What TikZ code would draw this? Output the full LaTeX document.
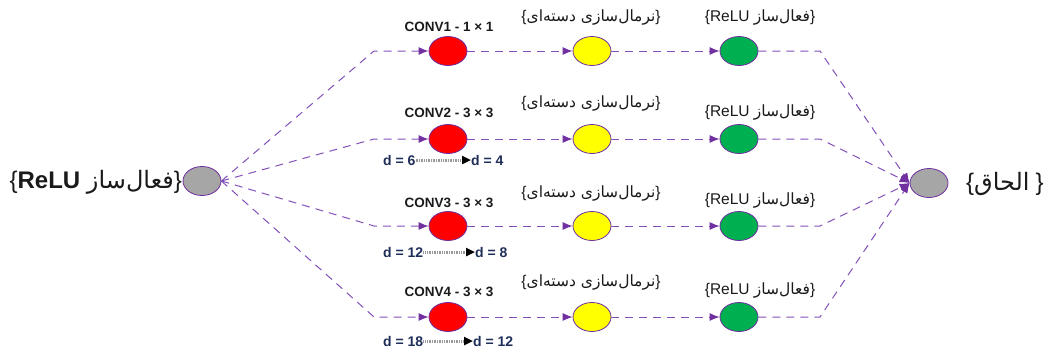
\documentclass[tikz,border=0pt]{standalone}
\usepackage{fontspec}
\setmainfont{Liberation Sans}
\newfontfamily\ar[Script=Arabic]{DejaVu Sans}
\TeXXeTstate=1
\usetikzlibrary{arrows.meta,shapes.geometric}
\definecolor{pur}{HTML}{8250B8}
\definecolor{purd}{HTML}{7030A0}
\definecolor{gfill}{HTML}{A6A6A6}
\definecolor{rfill}{HTML}{FF0000}
\definecolor{yfill}{HTML}{FFFF00}
\definecolor{grfill}{HTML}{00B050}
\definecolor{txt}{HTML}{1A1A1A}
\definecolor{dtxt}{HTML}{1F2F5A}
\newcommand{\faw}[1]{\mbox{\ar\beginR #1\endR}}
\tikzset{
  ell/.style={ellipse, draw=purd, line width=0.8pt, minimum width=38pt, minimum height=29pt, inner sep=0pt},
  conn/.style={draw=pur, dash pattern=on 8pt off 6pt, line width=1pt, -{Latex[length=10pt,width=8pt,color=purd]}},
  convlbl/.style={font=\fontsize{13.5}{15}\selectfont\bfseries, text=txt, inner sep=0pt},
  perlbl/.style={font=\fontsize{15.5}{17}\selectfont, text=txt, inner sep=0pt},
  dlbl/.style={font=\fontsize{14}{16}\selectfont\bfseries, text=dtxt, inner sep=0pt},
  darr/.style={draw=gray!80, dash pattern=on 1pt off 0.7pt, line width=3pt, -{Triangle[length=9pt,width=8pt,color=black]}},
  biglbl/.style={font=\fontsize{24}{27}\selectfont, text=txt, inner sep=0pt}
}
\begin{document}
\begin{tikzpicture}[x=1pt,y=-1pt]
\useasboundingbox (0,0) rectangle (1049,351);

% input / output
\node[ell, fill=gfill] (in) at (202,181) {};
\node[ell, fill=gfill] (out) at (929,183) {};
\node[biglbl, anchor=east] (inlbl) at (182,182) {\{\textbf{ReLU}\ \faw{فعال‌ساز}\}};
\node[biglbl, anchor=west] (outlbl) at (966,184) {\{\faw{الحاق}\hspace{6pt}\}};

% rows
\foreach \i/\y/\cy/\py/\ry/\k in {1/51/27/18/18/1 - 1 × 1, 2/139/113/104/113/2 - 3 × 3, 3/226/203/193/200/3 - 3 × 3, 4/317/292/282/290/4 - 3 × 3}{
  \node[ell, fill=rfill] (r\i) at (448,\y) {};
  \node[ell, fill=yfill] (y\i) at (592,\y) {};
  \node[ell, fill=grfill] (g\i) at (739,\y) {};
  \coordinate (cl\i) at (374,\y);
  \coordinate (cr\i) at (820,\y);
  \node[convlbl] (cv\i) at (449,\cy) {CONV\k};
  \node[perlbl] (pl\i) at (591,\py) {\{\faw{نرمال‌سازی دسته‌ای}\}};
  \node[perlbl] (rl\i) at (760,\ry) {\{ReLU\ \faw{فعال‌ساز}\}};
  \draw[conn] (in.east) -- (cl\i) -- (r\i.west);
  \draw[conn] (r\i.east) -- (y\i.west);
  \draw[conn] (y\i.east) -- (g\i.west);
  \draw[conn] (g\i.east) -- (cr\i) -- (out.west);
}

% dilation labels
\node[dlbl, anchor=west] (d2a) at (383,160) {d = 6};
\node[dlbl, anchor=west] (d2b) at (471,160) {d = 4};
\node[dlbl, anchor=west] (d3a) at (383,252) {d = 12};
\node[dlbl, anchor=west] (d3b) at (475,252) {d = 8};
\node[dlbl, anchor=west] (d4a) at (383,341) {d = 18};
\node[dlbl, anchor=west] (d4b) at (473,341) {d = 12};
\draw[darr] (d2a.east) -- (d2b.west);
\draw[darr] (d3a.east) -- (d3b.west);
\draw[darr] (d4a.east) -- (d4b.west);
\end{tikzpicture}
\end{document}
